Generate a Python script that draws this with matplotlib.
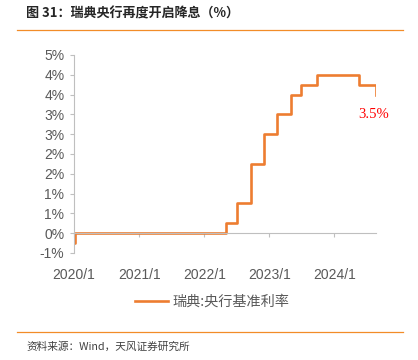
import pandas as pd
import matplotlib
matplotlib.use('Agg')
import matplotlib.pyplot as plt
from matplotlib.lines import Line2D

plt.rcParams['font.family'] = ['Liberation Sans', 'Noto Sans CJK SC', 'DejaVu Sans']

# Riksbank policy rate changes (%)
dates = ['2020-01-01', '2020-01-08', '2022-05-04', '2022-07-06', '2022-09-21',
         '2022-11-30', '2023-02-15', '2023-05-03', '2023-06-28', '2023-09-27',
         '2024-05-15', '2024-08-20', '2024-08-21']
rates = [-0.25, 0.0, 0.25, 0.75, 1.75, 2.5, 3.0, 3.5, 3.75, 4.0, 3.75, 3.5, 3.5]

ytick_vals = [-0.5, 0, 0.5, 1, 1.5, 2, 2.5, 3, 3.5, 4, 4.5]
ytick_labels = ['-1%', '0%', '1%', '1%', '2%', '2%', '3%', '3%', '4%', '4%', '5%']
xtick_dates = ['2020-01-01', '2021-01-01', '2022-01-01', '2023-01-01', '2024-01-01']
xtick_labels = ['2020/1', '2021/1', '2022/1', '2023/1', '2024/1']

series_name = '瑞典:央行基准利率'
title = '图 31：瑞典央行再度开启降息（%）'
source = '资料来源：Wind，天风证券研究所'

orange = '#ED7D31'
gray = '#595959'
axis_gray = '#BFBFBF'

dates = pd.to_datetime(dates)

fig = plt.figure(figsize=(4.18, 3.6), dpi=100)
ax = fig.add_axes([74 / 418, 107 / 360, 302 / 418, 198 / 360])

ax.step(dates, rates, where='post', color=orange, linewidth=1.9, label=series_name)

ax.set_xlim(pd.Timestamp('2020-01-01'), dates[-1])
ax.set_ylim(-0.5, 4.5)

ax.set_yticks(ytick_vals)
ax.set_yticklabels(ytick_labels)
ax.set_xticks(pd.to_datetime(xtick_dates))
ax.set_xticklabels(xtick_labels)

for s in ['top', 'right']:
    ax.spines[s].set_visible(False)
ax.spines['left'].set_color(axis_gray)
ax.spines['bottom'].set_color(axis_gray)
ax.spines['bottom'].set_position(('data', 0))

ax.tick_params(axis='y', colors=axis_gray, labelcolor=gray, labelsize=10, length=3, pad=4)
ax.tick_params(axis='x', colors=axis_gray, labelcolor=gray, labelsize=10, length=3, pad=22)

ax.annotate('3.5%', xy=(dates[-1], 3.5), xytext=(-2, -10), textcoords='offset points',
            ha='center', va='top', color='#FF0000', fontsize=10.5, family='Liberation Serif')

fig.legend(handles=[Line2D([0], [0], color=orange, linewidth=1.9)], labels=[series_name],
           loc='center', bbox_to_anchor=(0.508, 1 - 302 / 360), frameon=False,
           handlelength=2.3, handletextpad=0.3, prop={'family': 'Noto Sans CJK SC', 'size': 10.2},
           labelcolor=gray)

fig.text(26 / 418, 1 - 14 / 360, title, fontsize=9.4, fontweight='bold', color='#262626',
         va='center', ha='left', family=['Noto Sans CJK SC', 'DejaVu Sans'])
fig.add_artist(Line2D([17 / 418, 403 / 418], [1 - 30 / 360, 1 - 30 / 360], color='#F28C28', linewidth=0.9))
fig.add_artist(Line2D([17 / 418, 403 / 418], [1 - 332 / 360, 1 - 332 / 360], color='#F28C28', linewidth=0.9))
fig.text(26 / 418, 1 - 347 / 360, source, fontsize=7.7, color='#404040',
         va='center', ha='left', family=['Noto Sans CJK SC', 'DejaVu Sans'])

fig.savefig('out.png', dpi=100)
